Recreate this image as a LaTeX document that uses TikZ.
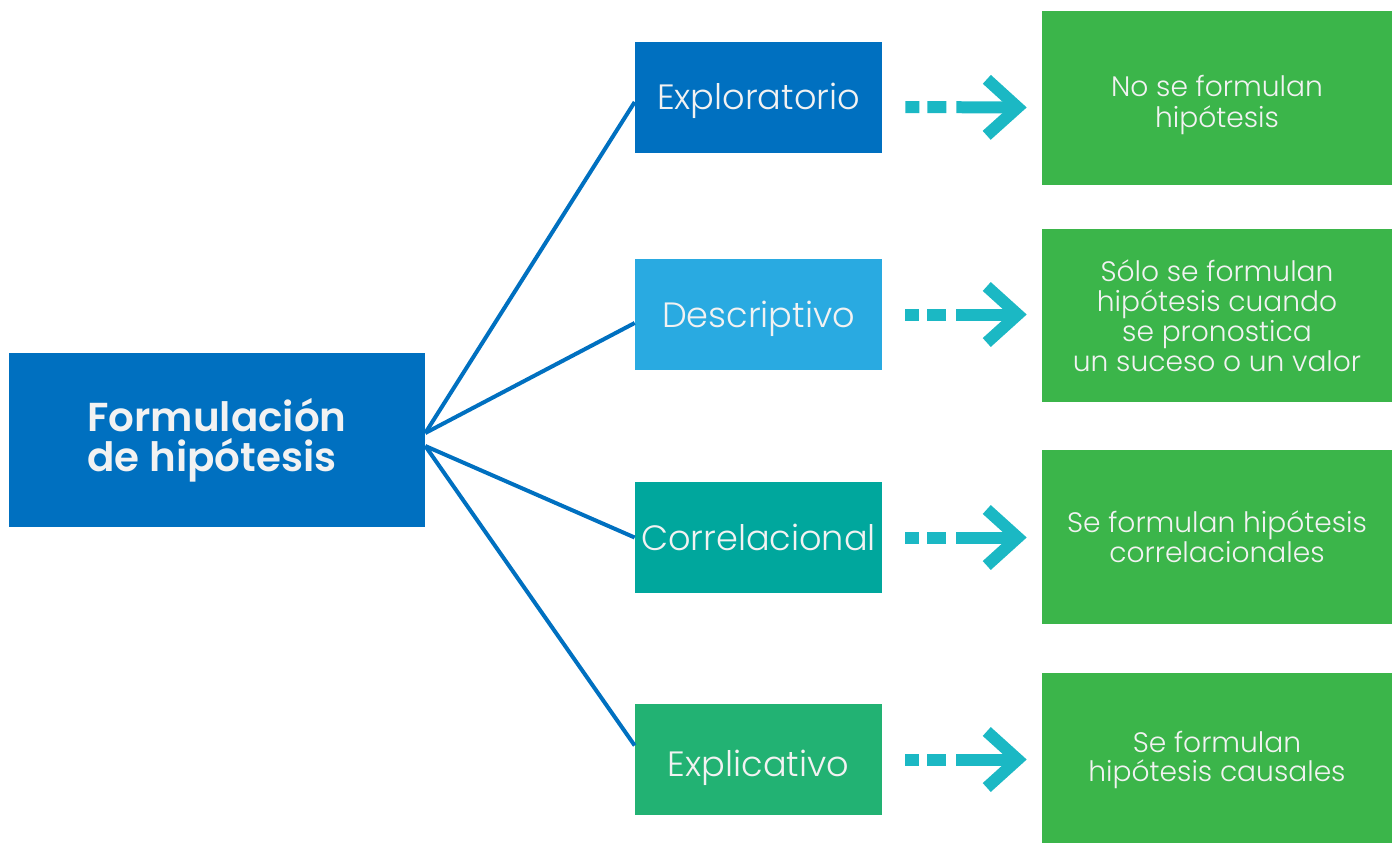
\documentclass[tikz,border=0pt]{standalone}
\usepackage{fontspec}
\setmainfont{Poppins}[UprightFont=* Light, BoldFont=* SemiBold]
\usepackage{tikz}
\usetikzlibrary{arrows.meta}
\usetikzlibrary{positioning}
\definecolor{azul}{RGB}{0,112,192}
\definecolor{celeste}{RGB}{41,170,225}
\definecolor{turquesa}{RGB}{0,167,157}
\definecolor{verdeazul}{RGB}{34,178,115}
\definecolor{verde}{RGB}{59,181,74}
\definecolor{flecha}{RGB}{27,184,196}
\definecolor{blanco}{RGB}{242,242,242}
\newcommand{\bajar}[2]{\raisebox{-#1}[\height][\depth]{#2}}
\tikzstyle{raiz} = [rectangle, fill=azul, text=blanco, minimum width=8.32cm, minimum height=3.48cm, align=left, font=\bfseries\fontsize{23}{23}\selectfont]
\tikzstyle{tipo} = [rectangle, minimum width=4.94cm, minimum height=2.22cm, text=blanco, font=\fontsize{20}{22}\selectfont]
\tikzstyle{nota} = [rectangle, fill=verde, minimum width=7cm, minimum height=3.48cm, text=blanco, align=center, font=\fontsize{16}{17}\selectfont]
\tikzstyle{rama} = [-, line width=0.08cm, draw=azul]
\tikzstyle{paso} = [-{Straight Barb[length=0.62cm, width=1.12cm]}, line width=0.24cm, draw=flecha, dash pattern=on 0.28cm off 0.16cm on 0.38cm off 0.2cm on 6cm off 0cm, shorten <=0.46cm, shorten >=0.3cm]

\begin{document}
\begin{tikzpicture}[x=0.02cm, y=-0.02cm]
\useasboundingbox (0,0) rectangle (1396,842);
% raiz
\node [raiz] (F) at (217,440) {Formulación\\de hipótesis};
% tipos de estudio
\node [tipo, fill=azul] (E1) at (758.5,97.5) {\bajar{0.06cm}{Exploratorio}};
\node [tipo, fill=celeste] (E2) at (758.5,314.5) {\bajar{0.08cm}{Descriptivo}};
\node [tipo, fill=turquesa] (E3) at (758.5,537.5) {Correlacional};
\node [tipo, fill=verdeazul] (E4) at (758.5,759.5) {\bajar{0.17cm}{Explicativo}};
% hipotesis
\node [nota] (N1) at (1217,98) {\bajar{0.16cm}{\begin{tabular}{@{}c@{}}No se formulan\\hipótesis\end{tabular}}};
\node [nota] (N2) at (1217,315.5) {Sólo se formulan\\hipótesis cuando\\se pronostica\\un suceso o un valor};
\node [nota] (N3) at (1217,537) {Se formulan hipótesis\\correlacionales};
\node [nota] (N4) at (1217,760) {Se formulan\\hipótesis causales};
% ramas
\draw [rama] ([yshift=0.14cm]F.east) to ([yshift=-0.09cm]E1.west);
\draw [rama] ([yshift=0.14cm]F.east) to ([yshift=-0.17cm]E2.west);
\draw [rama] ([yshift=-0.12cm]F.east) to (E3.west);
\draw [rama] ([yshift=-0.12cm]F.east) to ([yshift=0.28cm]E4.west);
% flechas
\draw [paso] ([yshift=-0.19cm]E1.east) to ([yshift=-0.19cm]N1.west);
\draw [paso] (E2.east) to (E2.east -| N2.west);
\draw [paso] (E3.east) to (E3.east -| N3.west);
\draw [paso] (E4.east) to (E4.east -| N4.west);
\end{tikzpicture}
\end{document}
